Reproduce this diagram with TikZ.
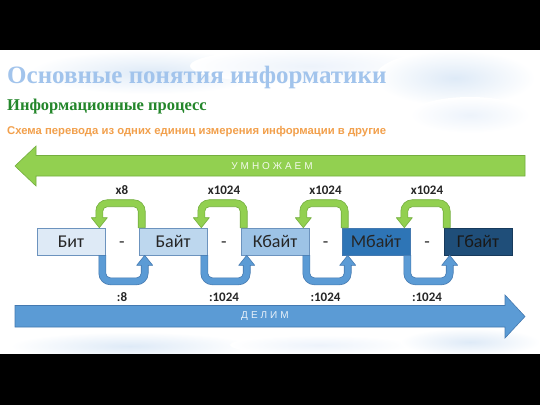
\documentclass[tikz,border=0pt]{standalone}
\usepackage{fontspec}
\setmainfont{Liberation Serif}
\newfontfamily\carlito{Carlito}
\newfontfamily\arialf{Liberation Sans}
\newfontfamily\spacedf[LetterSpace=30]{Liberation Sans}
\usetikzlibrary{calc}
\definecolor{titleblue}{HTML}{A2C4EC}
\definecolor{subgreen}{HTML}{23862A}
\definecolor{suborange}{HTML}{F2A04C}
\definecolor{agreen}{HTML}{92D050}
\definecolor{agreenD}{HTML}{74AE3E}
\definecolor{ablue}{HTML}{5B9BD5}
\definecolor{ablueD}{HTML}{4479B0}
\definecolor{cloudA}{HTML}{DEEAF7}
\definecolor{cloudB}{HTML}{EDF3FB}
\definecolor{boxA}{HTML}{DEEAF6}
\definecolor{boxB}{HTML}{BDD7EE}
\definecolor{boxC}{HTML}{9DC3E6}
\definecolor{boxD}{HTML}{2E75B6}
\definecolor{boxE}{HTML}{1F4E79}
\definecolor{boxline}{HTML}{6C93BE}
\definecolor{boxlineD}{HTML}{173A5C}
\definecolor{txt}{HTML}{262626}
\tikzset{
  unitbox/.style={draw=boxline, line width=0.6pt, minimum width=68pt, minimum height=27pt,
    inner sep=0pt, text=txt, font=\carlito\fontsize{18}{20}\selectfont},
  dashtext/.style={inner sep=0pt, text=txt, font=\carlito\fontsize{18}{20}\selectfont},
  factor/.style={inner sep=0pt, text=txt, font=\carlito\bfseries\fontsize{13}{15}\selectfont},
  mulfill/.style={fill=agreen, draw=agreenD, line width=0.6pt, line join=round},
  divfill/.style={fill=ablue, draw=ablueD, line width=0.6pt, line join=round},
  bigtext/.style={inner sep=0pt, font=\spacedf\fontsize{10}{12}\selectfont},
}
\newcommand\mulloop[2]{%
  \path[mulfill] let \p1=($(#1.north east)+(-6pt,0)$), \p2=($(#2.north west)+(3pt,24.5pt)$) in
  (\x2+3.5pt,\y1) -- (\x2+3.5pt,\y2-8pt) arc[start angle=0,end angle=90,radius=11.5pt]
  -- (\x1+8pt,\y2+3.5pt) arc[start angle=90,end angle=180,radius=11.5pt]
  -- (\x1-3.5pt,\y1+10pt) -- (\x1-8pt,\y1+10pt) -- (\x1,\y1) -- (\x1+8pt,\y1+10pt)
  -- (\x1+3.5pt,\y1+10pt) -- (\x1+3.5pt,\y2-8pt) arc[start angle=180,end angle=90,radius=4.5pt]
  -- (\x2-8pt,\y2-3.5pt) arc[start angle=90,end angle=0,radius=4.5pt]
  -- (\x2-3.5pt,\y1) -- cycle;}
\newcommand\divloop[2]{%
  \path[divfill] let \p1=($(#1.south east)+(-3pt,-26pt)$), \p2=($(#2.south west)+(6pt,0)$) in
  (\x1-3.5pt,\y2) -- (\x1-3.5pt,\y1+8pt) arc[start angle=180,end angle=270,radius=11.5pt]
  -- (\x2-8pt,\y1-3.5pt) arc[start angle=270,end angle=360,radius=11.5pt]
  -- (\x2+3.5pt,\y2-10pt) -- (\x2+8pt,\y2-10pt) -- (\x2,\y2) -- (\x2-8pt,\y2-10pt)
  -- (\x2-3.5pt,\y2-10pt) -- (\x2-3.5pt,\y1+8pt) arc[start angle=0,end angle=-90,radius=4.5pt]
  -- (\x1+8pt,\y1+3.5pt) arc[start angle=270,end angle=180,radius=4.5pt]
  -- (\x1+3.5pt,\y2) -- cycle;}
\begin{document}
\begin{tikzpicture}[x=1pt,y=-1pt]
\useasboundingbox (0,0) rectangle (540,405);
\fill[white] (0,0) rectangle (540,405);
% watercolour clouds
\shade[inner color=cloudA, outer color=white] (150,72) ellipse [x radius=120, y radius=22];
\shade[inner color=cloudB, outer color=white] (310,66) ellipse [x radius=120, y radius=18];
\shade[inner color=cloudA, outer color=white] (455,78) ellipse [x radius=80, y radius=28];
\shade[inner color=cloudB, outer color=white] (470,115) ellipse [x radius=60, y radius=18];
\shade[inner color=cloudA, outer color=white] (130,346) ellipse [x radius=120, y radius=14];
\shade[inner color=cloudB, outer color=white] (320,345) ellipse [x radius=90, y radius=10];
\shade[inner color=cloudA, outer color=white] (470,342) ellipse [x radius=70, y radius=14];
% black bars
\fill[black] (0,0) rectangle (540,50);
\fill[black] (0,354) rectangle (540,405);
% headings
\node[anchor=base west, inner sep=0pt, text=titleblue, font=\bfseries\fontsize{25}{30}\selectfont] (title) at (7,83) {Основные понятия информатики};
\node[anchor=base west, inner sep=0pt, text=subgreen, font=\bfseries\fontsize{16.5}{20}\selectfont] (sub) at (7,110) {Информационные процесс};
\node[anchor=base west, inner sep=0pt, text=suborange, font=\arialf\bfseries\fontsize{11.3}{14}\selectfont] (scheme) at (7,134) {Схема перевода из одних единиц измерения информации в другие};
% big arrows
\path[fill=agreen, draw=agreenD, line width=0.6pt] (15,166) -- (36,146) -- (36,155.5) -- (525,155.5) -- (525,176) -- (36,176) -- (36,186) -- cycle;
\node[bigtext, text=white!88!agreen] (mul) at (272,166) {УМНОЖАЕМ};
\path[fill=ablue, draw=ablueD, line width=0.6pt] (525,316.5) -- (505,295) -- (505,305.5) -- (15,305.5) -- (15,327) -- (505,327) -- (505,338) -- cycle;
\node[bigtext, text=white!85!ablue] (div) at (265,316) {ДЕЛИМ};
% unit boxes
\node[unitbox, fill=boxA] (bit) at (71,241.5) {Бит};
\node[unitbox, fill=boxB] (byte) at (173,241.5) {Байт};
\node[unitbox, fill=boxC] (kb) at (275,241.5) {Кбайт};
\node[unitbox, fill=boxD, draw=ablueD] (mb) at (376,241.5) {Мбайт};
\node[unitbox, fill=boxE, draw=boxlineD, text=black!90] (gb) at (478,241.5) {Гбайт};
\node[dashtext] (d1) at (122,245) {-};
\node[dashtext] (d2) at (224,245) {-};
\node[dashtext] (d3) at (325.5,245) {-};
\node[dashtext] (d4) at (427,245) {-};
% loops
\mulloop{bit}{byte}
\mulloop{byte}{kb}
\mulloop{kb}{mb}
\mulloop{mb}{gb}
\divloop{bit}{byte}
\divloop{byte}{kb}
\divloop{kb}{mb}
\divloop{mb}{gb}
% factors
\node[factor] (m1) at (122,190) {x8};
\node[factor] (m2) at (224,190) {x1024};
\node[factor] (m3) at (325.5,190) {x1024};
\node[factor] (m4) at (427,190) {x1024};
\node[factor] (q1) at (122,297) {:8};
\node[factor] (q2) at (224,297) {:1024};
\node[factor] (q3) at (325.5,297) {:1024};
\node[factor] (q4) at (427,297) {:1024};
\end{tikzpicture}
\end{document}
